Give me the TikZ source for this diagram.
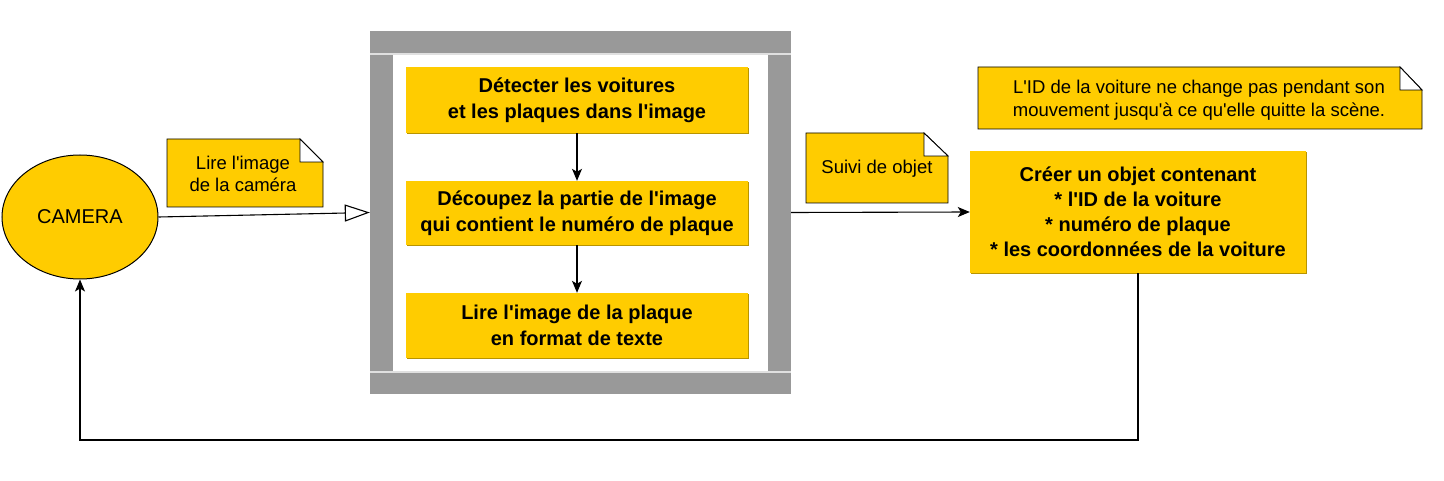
\documentclass[tikz,border=0pt]{standalone}
\usepackage{fontspec}
\setmainfont{Liberation Sans}[Ligatures=TeXOff]
\usetikzlibrary{arrows.meta,shapes.geometric,shadows}
\definecolor{gold}{HTML}{FFCC00}
\definecolor{goldshadow}{HTML}{B89400}
\definecolor{framegray}{HTML}{999999}
\definecolor{bevel}{HTML}{E0E0E0}
\tikzset{
  procbox/.style={rectangle, fill=gold, draw=none, minimum width=342, minimum height=66, inner sep=0,
    align=center, font=\bfseries\fontsize{20}{26}\selectfont,
    drop shadow={shadow xshift=1.2pt, shadow yshift=-1.2pt, fill=goldshadow, opacity=1}},
  notetext/.style={align=center, font=\fontsize{18.5}{22.5}\selectfont, inner sep=0},
  flow/.style={draw=black, line width=1.1pt, -{Stealth[length=12pt,width=10pt,inset=3pt]}},
  notebox/.style={fill=gold, draw=black, line width=0.9pt, line join=miter},
  foldtri/.style={fill=white, draw=black, line width=0.9pt},
}
\begin{document}
\begin{tikzpicture}[x=1pt,y=-1pt]
\useasboundingbox (0,0) rectangle (1444,481);
% container frame
\node[rectangle, fill=framegray, draw=none, minimum width=421, minimum height=363, inner sep=0] (cont) at (580.5,212.5) {};
\node[rectangle, fill=white, draw=none, minimum width=375, minimum height=318, inner sep=0] (inner) at (580.5,213) {};
\draw[bevel, line width=1.5pt] (cont.west |- inner.north) -- (cont.east |- inner.north);
\draw[bevel, line width=1.5pt] (cont.west |- inner.south) -- (cont.east |- inner.south);
% process boxes
\node[procbox] (b1) at (577,100) {Détecter les voitures\\et les plaques dans l'image};
\node[procbox, minimum height=64] (b2) at (577,213) {Découpez la partie de l'image\\qui contient le numéro de plaque};
\node[procbox, minimum height=65] (b3) at (577,325.5) {Lire l'image de la plaque\\en format de texte};
\node[procbox, minimum width=336, minimum height=122, font=\bfseries\fontsize{20}{25}\selectfont] (b4) at (1138,212)
  {Créer un objet contenant\\* l'ID de la voiture\\* numéro de plaque\\* les coordonnées de la voiture};
% camera
\node[ellipse, fill=gold, draw=black, line width=1pt, minimum width=156, minimum height=124, inner sep=0,
  font=\fontsize{20}{24}\selectfont] (cam) at (80,217) {CAMERA};
% notes
\path[notebox] (167,139) -- (300,139) -- (323,162) -- (323,207) -- (167,207) -- cycle;
\path[foldtri] (300,139) -- (300,162) -- (323,162) -- cycle;
\node[notetext] (n1) at (243,174) {Lire l'image\\de la caméra};
\path[notebox] (806,133) -- (924,133) -- (948,156) -- (948,203) -- (806,203) -- cycle;
\path[foldtri] (924,133) -- (924,156) -- (948,156) -- cycle;
\node[notetext] (n2) at (877,169) {Suivi de objet};
\path[notebox] (978,67) -- (1400,67) -- (1422,90) -- (1422,129) -- (978,129) -- cycle;
\path[foldtri] (1400,67) -- (1400,90) -- (1422,90) -- cycle;
\node[notetext, font=\fontsize{18.5}{23}\selectfont] (n3) at (1199,100) {L'ID de la voiture ne change pas pendant son\\mouvement jusqu'à ce qu'elle quitte la scène.};
% connectors
\draw[line width=1.1pt, -{Triangle[open, length=25pt, width=17pt, fill=white]}] (cam.east) -- (cont.west);
\draw[flow] (b1.south) -- (b2.north);
\draw[flow] (b2.south) -- (b3.north);
\draw[flow] (cont.east) -- (b4.west);
\coordinate (fb) at (80,440);
\draw[flow] (b4.south) |- (fb) -- (cam.south);
\end{tikzpicture}
\end{document}
